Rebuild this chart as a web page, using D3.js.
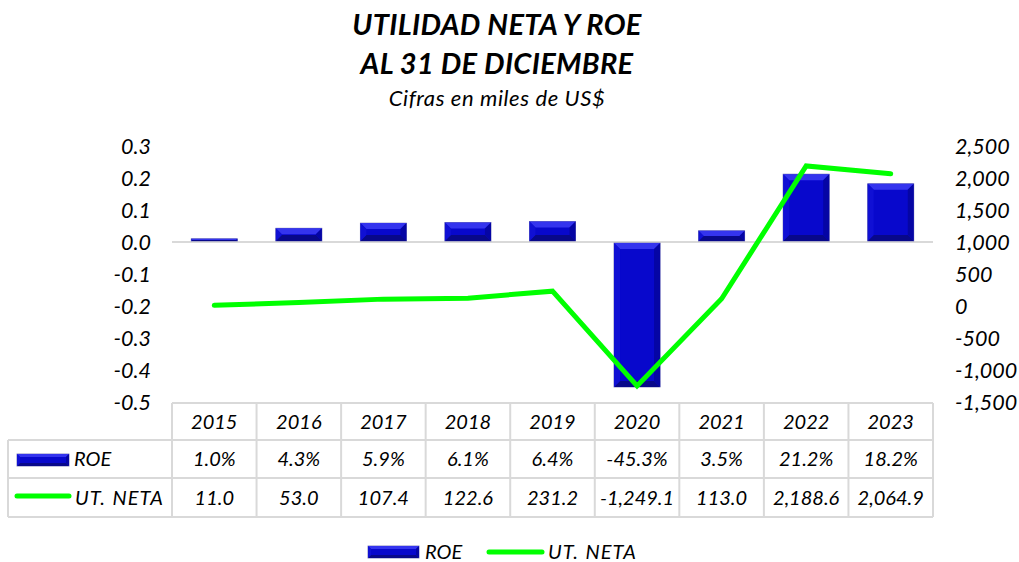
<!DOCTYPE html>
<html lang="es">
<head>
    <meta charset="UTF-8">
    <script src="https://d3js.org/d3.v7.min.js"></script>
    <title>Utilidad neta y ROE</title>
    <style>
        body { margin: 0; background: #fff; }
        svg { display: block; }
        text { font-family: Lato, "Open Sans", sans-serif; font-style: italic; fill: #000; }
    </style>
</head>
<body>
    <div id="chart"></div>
    <script>
        const years = ["2015", "2016", "2017", "2018", "2019", "2020", "2021", "2022", "2023"];
        const roe = [0.010, 0.043, 0.059, 0.061, 0.064, -0.453, 0.035, 0.212, 0.182];
        const utNeta = [11.0, 53.0, 107.4, 122.6, 231.2, -1249.1, 113.0, 2188.6, 2064.9];
        const leftTicks = [0.3, 0.2, 0.1, 0.0, -0.1, -0.2, -0.3, -0.4, -0.5];
        const rightTicks = [2500, 2000, 1500, 1000, 500, 0, -500, -1000, -1500];

        const width = 1019, height = 562;
        const svg = d3.select("#chart").append("svg")
            .attr("width", width)
            .attr("height", height);

        // titulos
        svg.append("text").attr("x", 497).attr("y", 35).attr("text-anchor", "middle")
            .style("font-size", "29px").style("font-weight", "bold").style("letter-spacing", "0.3px")
            .text("UTILIDAD NETA Y ROE");
        svg.append("text").attr("x", 497).attr("y", 74).attr("text-anchor", "middle")
            .style("font-size", "29px").style("font-weight", "bold").style("letter-spacing", "0.3px")
            .text("AL 31 DE DICIEMBRE");
        svg.append("text").attr("x", 497).attr("y", 106).attr("text-anchor", "middle")
            .style("font-size", "22px").style("letter-spacing", "0.6px").text("Cifras en miles de US$");

        const plotLeft = 172, plotRight = 933, plotTop = 146, plotBottom = 402;

        const x = d3.scaleBand().domain(years).range([plotLeft, plotRight]).paddingInner(0.455).paddingOuter(0.2275);
        const xCol = d3.scaleBand().domain(years).range([plotLeft, plotRight]);
        const yL = d3.scaleLinear().domain([-0.5, 0.3]).range([plotBottom, plotTop]);
        const yR = d3.scaleLinear().domain([-1500, 2500]).range([plotBottom, plotTop]);

        // eje izquierdo
        const axL = svg.append("g").attr("transform", `translate(${plotLeft - 21},0)`)
            .call(d3.axisLeft(yL).tickValues(leftTicks).tickSize(0).tickPadding(0));
        axL.select(".domain").remove();
        axL.selectAll("text").style("font-size", "21.5px").attr("dy", "0.35em")
            .text(d => d3.format(".1f")(d).replace("−", "-"));

        // eje derecho
        const axR = svg.append("g").attr("transform", `translate(${plotRight + 22},0)`)
            .call(d3.axisRight(yR).tickValues(rightTicks).tickSize(0).tickPadding(0));
        axR.select(".domain").remove();
        axR.selectAll("text").style("font-size", "21.5px").attr("dy", "0.35em")
            .text(d => d3.format(",")(d).replace("−", "-"));

        // linea de cero
        svg.append("line").attr("x1", plotLeft).attr("x2", plotRight)
            .attr("y1", yL(0)).attr("y2", yL(0))
            .attr("stroke", "#d9d9d9").attr("stroke-width", 2);

        // barras con bisel
        function bevelBar(g, x0, y0, w, h, b) {
            b = Math.min(b, h / 2, w / 2);
            g.append("rect").attr("x", x0).attr("y", y0).attr("width", w).attr("height", h)
                .attr("fill", "#0808cc").attr("stroke", "#6a6ab0").attr("stroke-width", 0.8);
            const x1 = x0 + w, y1 = y0 + h;
            g.append("polygon").attr("fill", "#3434ee")
                .attr("points", [[x0, y0], [x1, y0], [x1 - b, y0 + b], [x0 + b, y0 + b]].join(" "));
            g.append("polygon").attr("fill", "#08088a")
                .attr("points", [[x0, y1], [x1, y1], [x1 - b, y1 - b], [x0 + b, y1 - b]].join(" "));
            g.append("polygon").attr("fill", "#1010d4")
                .attr("points", [[x0, y0], [x0 + b, y0 + b], [x0 + b, y1 - b], [x0, y1]].join(" "));
            g.append("polygon").attr("fill", "#0505a4")
                .attr("points", [[x1, y0], [x1 - b, y0 + b], [x1 - b, y1 - b], [x1, y1]].join(" "));
        }

        const bars = svg.append("g");
        years.forEach((yr, i) => {
            const v = roe[i];
            const y0 = Math.min(yL(v), yL(0));
            const h = Math.abs(yL(v) - yL(0));
            bevelBar(bars, x(yr), y0 + (v < 0 ? 1 : 0), x.bandwidth(), h - 1, 6);
        });

        // linea utilidad neta
        const line = d3.line()
            .x((d, i) => x(years[i]) + x.bandwidth() / 2)
            .y(d => yR(d));
        svg.append("path").datum(utNeta)
            .attr("d", line)
            .attr("fill", "none").attr("stroke", "#00ff00")
            .attr("stroke-width", 5).attr("stroke-linecap", "round").attr("stroke-linejoin", "miter");

        // tabla de datos
        const grid = "#d9d9d9";
        const tTop = 403, r1 = 440, r2 = 478, tBot = 517, tLeft = 8;
        const tbl = svg.append("g").attr("stroke", grid).attr("stroke-width", 2).attr("fill", "none");
        tbl.append("line").attr("x1", plotLeft).attr("x2", plotRight).attr("y1", tTop).attr("y2", tTop);
        [r1, r2, tBot].forEach(yy => tbl.append("line").attr("x1", tLeft).attr("x2", plotRight).attr("y1", yy).attr("y2", yy));
        tbl.append("line").attr("x1", tLeft).attr("x2", tLeft).attr("y1", r1).attr("y2", tBot);
        years.forEach(yr => tbl.append("line").attr("x1", xCol(yr)).attr("x2", xCol(yr)).attr("y1", tTop).attr("y2", tBot));
        tbl.append("line").attr("x1", plotRight).attr("x2", plotRight).attr("y1", tTop).attr("y2", tBot);

        const cx = d => xCol(d) + xCol.bandwidth() / 2;
        svg.append("g").selectAll("text").data(years).join("text")
            .attr("x", d => cx(d)).attr("y", (tTop + r1) / 2).attr("dy", "0.35em")
            .attr("text-anchor", "middle").style("font-size", "20px").text(d => d);
        svg.append("g").selectAll("text").data(roe).join("text")
            .attr("x", (d, i) => cx(years[i])).attr("y", (r1 + r2) / 2).attr("dy", "0.35em")
            .attr("text-anchor", "middle").style("font-size", "20px")
            .text(d => d3.format(".1%")(d).replace("−", "-"));
        svg.append("g").selectAll("text").data(utNeta).join("text")
            .attr("x", (d, i) => cx(years[i])).attr("y", (r2 + tBot) / 2).attr("dy", "0.35em")
            .attr("text-anchor", "middle").style("font-size", "20px")
            .text(d => d3.format(",.1f")(d).replace("−", "-"));

        // claves en la tabla
        bevelBar(svg.append("g"), 17, 454, 52, 12, 3);
        svg.append("text").attr("x", 74).attr("y", (r1 + r2) / 2).attr("dy", "0.35em")
            .style("font-size", "20px").text("ROE");
        svg.append("line").attr("x1", 17).attr("x2", 69).attr("y1", 496).attr("y2", 496)
            .attr("stroke", "#00ff00").attr("stroke-width", 5).attr("stroke-linecap", "round");
        svg.append("text").attr("x", 75).attr("y", (r2 + tBot) / 2).attr("dy", "0.35em")
            .style("font-size", "20px").style("letter-spacing", "1px").style("word-spacing", "1px")
            .text("UT. NETA");

        // leyenda inferior
        bevelBar(svg.append("g"), 368, 546, 51, 12, 3);
        svg.append("text").attr("x", 425).attr("y", 552).attr("dy", "0.35em")
            .style("font-size", "20px").text("ROE");
        svg.append("line").attr("x1", 489).attr("x2", 542).attr("y1", 552).attr("y2", 552)
            .attr("stroke", "#00ff00").attr("stroke-width", 5).attr("stroke-linecap", "round");
        svg.append("text").attr("x", 548).attr("y", 552).attr("dy", "0.35em")
            .style("font-size", "20px").style("letter-spacing", "1px").style("word-spacing", "1px")
            .text("UT. NETA");
    </script>
</body>
</html>
